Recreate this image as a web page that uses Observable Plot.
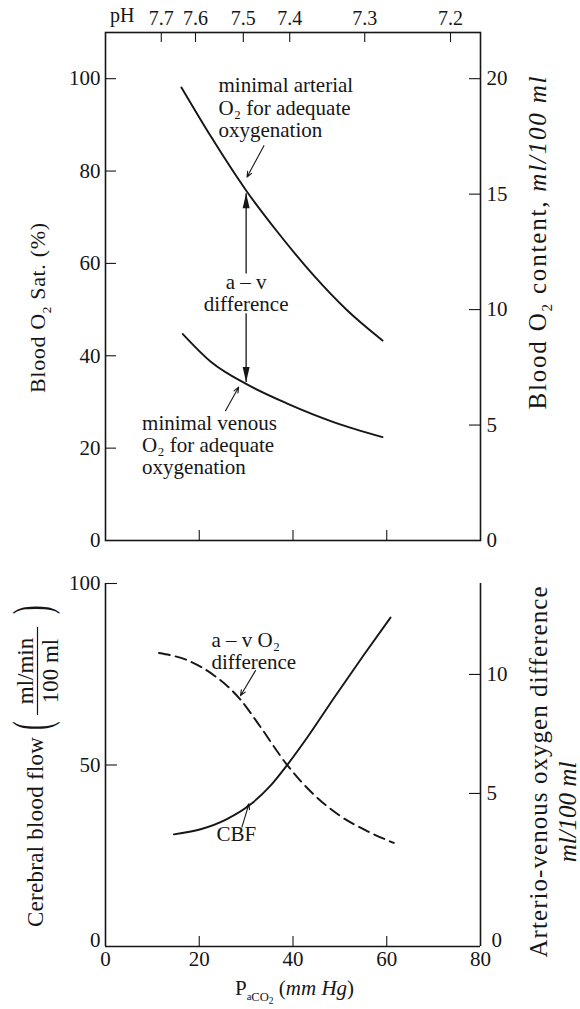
<!DOCTYPE html>
<html><head><meta charset="utf-8">
<script src="https://cdn.jsdelivr.net/npm/d3@7"></script>
<script src="https://cdn.jsdelivr.net/npm/@observablehq/plot@0.6"></script>
<style>
body{margin:0;background:#fff;}
#wrap{position:relative;width:580px;height:1009px;background:#fff;font-family:"Liberation Serif",serif;}
#wrap svg{position:absolute;left:0;font-family:"Liberation Serif",serif !important;}
#wrap svg text, #wrap svg tspan{font-family:"Liberation Serif",serif !important;}
</style></head><body><div id="wrap"></div>
<script>
// ---------- data ----------
const arterialPaCO2 = [16.2, 22.6, 30.0, 36.7, 44.5, 51.6, 59.1];
const arterialSat   = [98.1, 87.3, 75.8, 66.8, 57.3, 49.8, 43.3];
const venousPaCO2   = [16.5, 22.6, 30.0, 38.9, 48.8, 59.1];
const venousSat     = [44.7, 38.6, 33.9, 29.6, 25.6, 22.4];
const cbfPaCO2 = [14.6, 20.3, 25.9, 30.9, 35.2, 38.7, 43.0, 48.7, 55.1, 60.8];
const cbfFlow  = [30.9, 32.3, 35.1, 39.1, 44.3, 49.9, 57.5, 68.4, 80.3, 90.6];
const avPaCO2  = [11.4, 17.4, 23.1, 28.8, 33.0, 38.7, 44.4, 50.1, 55.8, 61.5];
const avDiff   = [10.9, 10.6, 9.97, 8.94, 7.81, 6.21, 4.96, 4.05, 3.42, 2.92];
const pHLabels   = ["7.7", "7.6", "7.5", "7.4", "7.3", "7.2"];
const pHAtPaCO2  = [11.9, 19.2, 29.4, 39.3, 55.3, 73.6];
const satTicks     = [0, 20, 40, 60, 80, 100];
const contentTicks = [0, 5, 10, 15, 20];
const xTicks       = [0, 20, 40, 60, 80];
const cbfTicks     = [0, 50, 100];
const avTicks      = [0, 5, 10];
const xDomain = [0, 80];
const satDomain = [0, 110];
const cbfDomain = [0, 100];
const avDomain = [-1.43, 13.82];

// annotations (data units)
const topNotesStart = [
  {x: 24.1, y: 100.4, text: "minimal arterial\nO₂ for adequate\noxygenation"},
  {x: 7.8, y: 27.4, text: "minimal venous\nO₂ for adequate\noxygenation"}
];
const topNotesMid = [{x: 30.0, y: 57.9, text: "a – v\ndifference"}];
const topShafts = [
  {x1: 30.0, y1: 57.8, x2: 30.0, y2: 75.2},
  {x1: 30.0, y1: 49.2, x2: 30.0, y2: 34.3}
];
const topPointers = [
  {x1: 33.8, y1: 85.5, x2: 30.2, y2: 78.7},
  {x1: 25.6, y1: 28.1, x2: 28.4, y2: 33.2}
];
const botNotesStart = [{x: 22.6, y: 86.8, text: "a – v O₂\ndifference"}];
const botNotesMid = [{x: 27.9, y: 33.3, text: "CBF"}];
const botPointers = [
  {x1: 32.0, y1: 76.0, x2: 28.8, y2: 69.1},
  {x1: 29.1, y1: 32.9, x2: 30.6, y2: 39.3}
];

// ---------- tables ----------
const arterial = arterialPaCO2.map((x, i) => ({x, y: arterialSat[i]}));
const venous = venousPaCO2.map((x, i) => ({x, y: venousSat[i]}));
const cbf = cbfPaCO2.map((x, i) => ({x, y: cbfFlow[i]}));
const av2y = d3.scaleLinear().domain(avDomain).range(cbfDomain);
const av = avPaCO2.map((x, i) => ({x, y: av2y(avDiff[i])}));

const ink = "#161616";
const font = '"Liberation Serif", serif';
const wrap = document.getElementById("wrap");

// ---------- top panel ----------
const TW = 375, TH = 508;
const topPlot = Plot.plot({
  width: 580, height: 560,
  marginLeft: 105, marginRight: 100, marginTop: 32, marginBottom: 20,
  x: {domain: xDomain}, y: {domain: satDomain},
  style: {fontFamily: font, fontSize: "21px", color: ink, background: "transparent"},
  marks: [
    Plot.frame({stroke: ink, strokeWidth: 1.6}),
    Plot.tickY(satTicks.slice(1), {y: d => d, stroke: ink, strokeWidth: 1.1, insetRight: TW - 11}),
    Plot.tickY(contentTicks.slice(1).map(d => d * 5), {y: d => d, stroke: ink, strokeWidth: 1.1, insetLeft: TW - 11}),
    Plot.tickX(xTicks.slice(1, -1), {x: d => d, stroke: ink, strokeWidth: 1.1, insetTop: TH - 10}),
    Plot.tickX(pHAtPaCO2, {x: d => d, stroke: ink, strokeWidth: 1.1, insetBottom: TH - 10}),
    Plot.axisY(satTicks, {anchor: "left", tickSize: 0, tickPadding: 5, label: null, fill: ink, fontFamily: font}),
    Plot.axisY(contentTicks.map(d => d * 5), {anchor: "right", tickSize: 0, tickPadding: 6, label: null, fill: ink, fontFamily: font, tickFormat: d => String(d / 5)}),
    Plot.axisX(pHAtPaCO2, {anchor: "top", tickSize: 0, tickPadding: 8, label: null, fill: ink, fontSize: 20, fontFamily: font,
      tickFormat: d => pHLabels[pHAtPaCO2.indexOf(d)]}),
    Plot.line(arterial, {x: "x", y: "y", curve: "monotone-x", stroke: ink, strokeWidth: 1.9}),
    Plot.line(venous, {x: "x", y: "y", curve: "monotone-x", stroke: ink, strokeWidth: 1.9}),
    Plot.link(topShafts, {x1: "x1", y1: "y1", x2: "x2", y2: "y2", stroke: ink, strokeWidth: 1.3}),
    Plot.vector(topShafts, {x: "x2", y: "y2", rotate: d => d.y2 > d.y1 ? 0 : 180, length: 15, shape: "spike", r: 3.5, anchor: "end", fill: ink, stroke: "none"}),
    Plot.arrow(topPointers, {x1: "x1", y1: "y1", x2: "x2", y2: "y2", stroke: ink, strokeWidth: 1.1, headLength: 8, headAngle: 45}),
    Plot.text(topNotesStart, {x: "x", y: "y", text: "text", textAnchor: "start", lineAnchor: "top", lineHeight: 1.05, fontSize: 21, fontFamily: font, fill: ink}),
    Plot.text(topNotesMid, {x: "x", y: "y", text: "text", textAnchor: "middle", lineAnchor: "top", lineHeight: 1.05, fontSize: 21, fontFamily: font, fill: ink})
  ]
});
topPlot.style.top = "0px";
wrap.appendChild(topPlot);

// ---------- bottom panel ----------
const BW = 375, BH = 363;
const botPlot = Plot.plot({
  width: 580, height: 449,
  marginLeft: 105, marginRight: 100, marginTop: 23, marginBottom: 63,
  x: {domain: xDomain}, y: {domain: cbfDomain},
  style: {fontFamily: font, fontSize: "21px", color: ink, background: "transparent"},
  marks: [
    Plot.ruleX(xDomain, {stroke: ink, strokeWidth: 1.6}),
    Plot.ruleY([cbfDomain[0]], {stroke: ink, strokeWidth: 1.6}),
    Plot.tickY(cbfTicks.slice(1), {y: d => d, stroke: ink, strokeWidth: 1.1, insetRight: BW - 12}),
    Plot.tickY(avTicks.slice(1).map(av2y), {y: d => d, stroke: ink, strokeWidth: 1.1, insetLeft: BW - 11}),
    Plot.tickX(xTicks.slice(1, -1), {x: d => d, stroke: ink, strokeWidth: 1.1, insetTop: BH - 10}),
    Plot.axisY(cbfTicks.slice(1), {anchor: "left", tickSize: 0, tickPadding: 5, label: null, fill: ink, fontFamily: font}),
    Plot.axisY(cbfTicks.slice(0, 1), {anchor: "left", tickSize: 0, tickPadding: 5, label: null, fill: ink, fontFamily: font, dy: -6}),
    Plot.axisY(avTicks.slice(1).map(av2y), {anchor: "right", tickSize: 0, tickPadding: 6, label: null, fill: ink, fontFamily: font,
      tickFormat: d => String(Math.round(av2y.invert(d)))}),
    Plot.axisY(cbfTicks.slice(0, 1), {anchor: "right", tickSize: 0, tickPadding: 11, label: null, fill: ink, fontFamily: font, dy: -6,
      tickFormat: () => String(avTicks[0])}),
    Plot.axisX(xTicks, {anchor: "bottom", tickSize: 0, tickPadding: 5, label: null, fill: ink, fontFamily: font}),
    Plot.line(cbf, {x: "x", y: "y", curve: "monotone-x", stroke: ink, strokeWidth: 1.9}),
    Plot.line(av, {x: "x", y: "y", curve: "monotone-x", stroke: ink, strokeWidth: 1.9, strokeDasharray: "11,6"}),
    Plot.arrow(botPointers, {x1: "x1", y1: "y1", x2: "x2", y2: "y2", stroke: ink, strokeWidth: 1.1, headLength: 8, headAngle: 45}),
    Plot.text(botNotesStart, {x: "x", y: "y", text: "text", textAnchor: "start", lineAnchor: "top", lineHeight: 1.05, fontSize: 21, fontFamily: font, fill: ink}),
    Plot.text(botNotesMid, {x: "x", y: "y", text: "text", textAnchor: "middle", lineAnchor: "top", fontSize: 21, fontFamily: font, fill: ink})
  ]
});
botPlot.style.top = "560px";
wrap.appendChild(botPlot);

// ---------- axis titles (rich text) ----------
const ov = d3.select(wrap).append("svg")
  .attr("width", 580).attr("height", 1009)
  .style("top", "0px").style("pointer-events", "none")
  .attr("font-family", font).attr("fill", ink);

function rich(parent, parts, size) {
  const t = parent.append("text").attr("font-size", size);
  let shift = 0;
  parts.forEach(p => {
    const s = t.append("tspan").text(p.t);
    const target = (p.dy || 0) * size;
    if (target !== shift) { s.attr("dy", target - shift); shift = target; }
    if (p.fs) s.attr("font-size", size * p.fs);
    if (p.i) s.attr("font-style", "italic");
  });
  return t;
}

// pH
ov.append("text").attr("x", 110).attr("y", 22).attr("font-size", 20).text("pH");

// top left
rich(ov.append("g").attr("transform", "translate(45,308) rotate(-90)"),
  [{t: "Blood O"}, {t: "2", fs: 0.6, dy: 0.25}, {t: " Sat. (%)"}], 22)
  .attr("text-anchor", "middle").attr("textLength", 170).attr("lengthAdjust", "spacing");

// top right
rich(ov.append("g").attr("transform", "translate(546,243) rotate(-90)"),
  [{t: "Blood O"}, {t: "2", fs: 0.6, dy: 0.25}, {t: " content, "}, {t: "ml/100 ml", i: true}], 25)
  .attr("text-anchor", "middle").attr("textLength", 333).attr("lengthAdjust", "spacing");

// bottom right
rich(ov.append("g").attr("transform", "translate(547,772) rotate(-90)"),
  [{t: "Arterio-venous oxygen difference"}], 25)
  .attr("text-anchor", "middle").attr("textLength", 371).attr("lengthAdjust", "spacing");
rich(ov.append("g").attr("transform", "translate(576,812) rotate(-90)"),
  [{t: "ml/100 ml", i: true}], 25)
  .attr("text-anchor", "middle");

// bottom left with fraction
const gl = ov.append("g").attr("transform", "translate(43,927) rotate(-90)");
rich(gl, [{t: "Cerebral blood flow"}], 23).attr("textLength", 190).attr("lengthAdjust", "spacing");
gl.append("text").attr("font-size", 26).attr("transform", "translate(197,5.6) scale(1,2.03)").text("(");
gl.append("text").attr("font-size", 26).attr("transform", "translate(313,5.6) scale(1,2.03)").text(")");
gl.append("text").attr("font-size", 23).attr("x", 256).attr("y", -10).attr("text-anchor", "middle").text("ml/min");
gl.append("text").attr("font-size", 23).attr("x", 256).attr("y", 15).attr("text-anchor", "middle").text("100 ml");
gl.append("line").attr("x1", 212).attr("x2", 300).attr("y1", -5.5).attr("y2", -5.5)
  .attr("stroke", ink).attr("stroke-width", 1.2);

// x label
rich(ov.append("g").attr("transform", "translate(235,995)"),
  [{t: "P"}, {t: "a", fs: 0.5, dy: 0.22}, {t: "CO", fs: 0.6, dy: 0.3}, {t: "2", fs: 0.45, dy: 0.45},
   {t: " (", dy: 0}, {t: "mm Hg", i: true}, {t: ")"}], 21);
</script></body></html>
